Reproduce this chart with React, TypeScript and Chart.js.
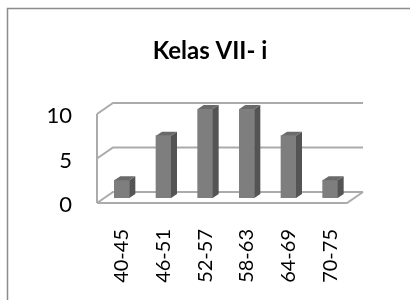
import React, { useEffect, useRef } from 'react';
import { Chart, registerables } from 'chart.js';

Chart.register(...registerables);

const chartTitle = 'Kelas VII- i';
const categories = ['40-45', '46-51', '52-57', '58-63', '64-69', '70-75'];
const frequencies = [2, 7, 10, 10, 7, 2];
const yTickValues = [0, 5, 10];

const FONT = 'Lato, "Open Sans", sans-serif';
const FRONT = { dx: -4, dy: 5 };
const BACK = { dx: 12, dy: -6 };
const BAR_DEPTH = { dx: 6, dy: -4 };

const decor = {
  id: 'decor3d',
  beforeDraw(chart: any) {
    const { ctx, width, height } = chart;
    ctx.save();
    ctx.fillStyle = '#ffffff';
    ctx.fillRect(0, 0, width, height);
    ctx.strokeStyle = '#8c8c8c';
    ctx.lineWidth = 1.5;
    ctx.beginPath();
    ctx.moveTo(7.5, height);
    ctx.lineTo(7.5, 8.5);
    ctx.lineTo(width, 8.5);
    ctx.stroke();
    ctx.fillStyle = '#000000';
    ctx.font = 'bold 24px ' + FONT;
    ctx.textAlign = 'center';
    ctx.textBaseline = 'middle';
    ctx.fillText(chartTitle, 210, 51);
    ctx.restore();
  },
  beforeDatasetsDraw(chart: any) {
    const { ctx, chartArea, scales } = chart;
    const y = scales.y;
    const L = chartArea.left;
    const R = chartArea.right;
    ctx.save();
    ctx.strokeStyle = '#ababab';
    ctx.lineWidth = 2;
    ctx.lineCap = 'butt';
    yTickValues.forEach((v) => {
      const py = y.getPixelForValue(v);
      ctx.beginPath();
      ctx.moveTo(L + FRONT.dx, py + FRONT.dy);
      ctx.lineTo(L + BACK.dx, py + BACK.dy);
      ctx.lineTo(R + BACK.dx, py + BACK.dy);
      ctx.stroke();
    });
    const yMax = y.getPixelForValue(yTickValues[yTickValues.length - 1]);
    const y0 = y.getPixelForValue(0);
    ctx.beginPath();
    ctx.moveTo(L + FRONT.dx, yMax + FRONT.dy);
    ctx.lineTo(L + FRONT.dx, y0 + FRONT.dy);
    ctx.stroke();
    ctx.beginPath();
    ctx.moveTo(L + FRONT.dx, y0 + FRONT.dy);
    ctx.lineTo(R + FRONT.dx, y0 + FRONT.dy);
    ctx.lineTo(R + BACK.dx, y0 + BACK.dy);
    ctx.stroke();
    ctx.restore();
  },
  afterDatasetsDraw(chart: any) {
    const { ctx } = chart;
    const meta = chart.getDatasetMeta(0);
    ctx.save();
    meta.data.forEach((bar: any) => {
      const half = bar.width / 2;
      const left = bar.x - half;
      const right = bar.x + half;
      const top = bar.y;
      const bottom = bar.base;
      ctx.fillStyle = '#545454';
      ctx.beginPath();
      ctx.moveTo(right, top);
      ctx.lineTo(right + BAR_DEPTH.dx, top + BAR_DEPTH.dy);
      ctx.lineTo(right + BAR_DEPTH.dx, bottom + BAR_DEPTH.dy);
      ctx.lineTo(right, bottom);
      ctx.closePath();
      ctx.fill();
      ctx.fillStyle = '#6a6a6a';
      ctx.beginPath();
      ctx.moveTo(left, top);
      ctx.lineTo(left + BAR_DEPTH.dx, top + BAR_DEPTH.dy);
      ctx.lineTo(right + BAR_DEPTH.dx, top + BAR_DEPTH.dy);
      ctx.lineTo(right, top);
      ctx.closePath();
      ctx.fill();
    });
    ctx.restore();
  },
};

export default function App() {
  const ref = useRef<HTMLCanvasElement>(null);
  useEffect(() => {
    if (!ref.current) return;
    const chart = new Chart(ref.current, {
      type: 'bar',
      data: {
        labels: categories,
        datasets: [
          {
            data: frequencies,
            backgroundColor: '#7e7e7e',
            borderWidth: 0,
            barThickness: 15,
          },
        ],
      },
      options: {
        responsive: false,
        animation: false,
        layout: { padding: { top: 109, right: 59, left: 0, bottom: 0 } },
        plugins: {
          legend: { display: false },
          title: { display: false },
          tooltip: { enabled: false },
        },
        scales: {
          x: {
            grid: { display: false, drawTicks: false },
            border: { display: false },
            ticks: {
              minRotation: 90,
              maxRotation: 90,
              padding: 31,
              color: '#000000',
              font: { family: FONT, size: 20 },
            },
            afterFit: (scale: any) => {
              scale.height = 300 - 198;
            },
          },
          y: {
            min: 0,
            max: 10,
            grid: { display: false, drawTicks: false },
            border: { display: false },
            afterBuildTicks: (scale: any) => {
              scale.ticks = yTickValues.map((v) => ({ value: v }));
            },
            ticks: {
              padding: 29,
              labelOffset: 7,
              color: '#000000',
              font: { family: FONT, size: 22 },
            },
            afterFit: (scale: any) => {
              scale.width = 101;
            },
          },
        },
      },
      plugins: [decor],
    });
    return () => chart.destroy();
  }, []);
  return (
    <div style={{ position: 'absolute', left: 0, top: 0, width: 410, height: 300 }}>
      <canvas ref={ref} width={410} height={300} style={{ display: 'block' }} />
    </div>
  );
}
